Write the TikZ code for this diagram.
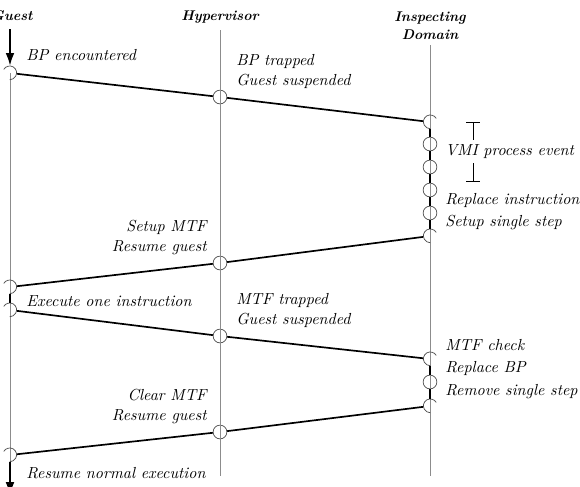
\documentclass[tikz,border=0pt]{standalone}
\usetikzlibrary{arrows.meta}
\begin{document}
\begin{tikzpicture}[x=0.625pt,y=-0.625pt,
 life/.style={black!45, line width=0.5pt},
 msg/.style={black, line width=1.05pt},
 act/.style={black, line width=1.2pt},
 evt/.style={circle, draw=black!70, line width=0.45pt, minimum size=8.6pt, inner sep=0pt},
 endp/.style={circle, draw=none, minimum size=8.6pt, inner sep=0pt},
 half/.style={draw=black!70, line width=0.45pt},
 lbl/.style={font=\itshape, inner sep=0pt, anchor=west, align=left},
 lblr/.style={font=\itshape, inner sep=0pt, anchor=east, align=right},
 ttl/.style={font=\fontsize{8.8}{11}\selectfont\bfseries\itshape, inner sep=0pt, align=center}]
\useasboundingbox (0,0) rectangle (580,486);

% titles
\node[ttl] (tg) at (12,16) {Guest};
\node[ttl] (th) at (220,17) {Hypervisor};
\node[ttl] (td) at (430,26) {Inspecting\\[0pt]Domain};

% lifeline ends
\coordinate (gtop) at (10,29);
\coordinate (gend) at (10,476);
\coordinate (htop) at (220,30);
\coordinate (hend) at (220,476);
\coordinate (dtop) at (430,45);
\coordinate (dend) at (430,476);
\coordinate (gbot) at (10,495);

% events
\node[endp] (g1) at (10,73) {};
\node[evt]  (h1) at (220,97) {};
\node[endp] (d1) at (430,122) {};
\node[evt]  (d2) at (430,144) {};
\node[evt]  (d3) at (430,167) {};
\node[evt]  (d4) at (430,190) {};
\node[evt]  (d5) at (430,213) {};
\node[endp] (d6) at (430,236) {};
\node[evt]  (h2) at (220,263) {};
\node[endp] (g2) at (10,287) {};
\node[endp] (g3) at (10,310) {};
\node[evt]  (h3) at (220,336) {};
\node[endp] (d7) at (430,359) {};
\node[evt]  (d8) at (430,382) {};
\node[endp] (d9) at (430,406) {};
\node[evt]  (h4) at (220,432) {};
\node[endp] (g4) at (10,455) {};

% lifelines
\draw[life] (g1.center) -- (gend);
\draw[life] (htop) -- (hend);
\draw[life] (dtop) -- (dend);

% half circles at the ends of messages
\foreach \n in {g1,g2,g3,g4}
  \draw[half] (\n.150) arc[start angle=150, end angle=-90, radius=4.3pt];
\foreach \n in {d1,d6,d7,d9}
  \draw[half] (\n.30) arc[start angle=30, end angle=270, radius=4.3pt];

% activity bars
\draw[act, -{Latex[length=8pt,width=5.5pt]}] (gtop) -- (g1.north);
\draw[act] (d1.south) -- (d2.north);
\draw[act] (d2.south) -- (d3.north);
\draw[act] (d3.south) -- (d4.north);
\draw[act] (d4.south) -- (d5.north);
\draw[act] (d5.south) -- (d6.north);
\draw[act] (g2.south) -- (g3.north);
\draw[act] (d7.south) -- (d8.north);
\draw[act] (d8.south) -- (d9.north);
\draw[act, -{Latex[length=8pt,width=5.5pt]}] (g4.south) -- (gbot);

% messages
\draw[msg] (g1) -- (h1);
\draw[msg] (h1) -- (d1);
\draw[msg] (d6) -- (h2);
\draw[msg] (h2) -- (g2);
\draw[msg] (g3) -- (h3);
\draw[msg] (h3) -- (d7);
\draw[msg] (d9) -- (h4);
\draw[msg] (h4) -- (g4);

% bracket around VMI process event
\coordinate (b1) at (473,122);
\coordinate (b2) at (473,140);
\coordinate (b3) at (473,163);
\coordinate (b4) at (473,182);
\draw[line width=0.55pt, {Bar[width=8.5pt]}-] (b1) -- (b2);
\draw[line width=0.55pt, -{Bar[width=8.5pt]}] (b3) -- (b4);

% labels
\node[lbl] (l1) at (26,55) {BP encountered};
\node[lbl] (l2) at (236,71.5) {BP trapped\\Guest suspended};
\node[lbl] (l3) at (445,152) {VMI process event};
\node[lbl] (l4) at (445,200) {Replace instruction};
\node[lbl] (l5) at (445,222) {Setup single step};
\node[lblr] (l6) at (207,237.5) {Setup MTF\\Resume guest};
\node[lbl] (l7) at (26,301) {Execute one instruction};
\node[lbl] (l8) at (236,310.5) {MTF trapped\\Guest suspended};
\node[lbl] (l9) at (445,345) {MTF check};
\node[lbl] (l10) at (445,368) {Replace BP};
\node[lbl] (l11) at (445,392) {Remove single step};
\node[lblr] (l12) at (207,406.5) {Clear MTF\\Resume guest};
\node[lbl] (l13) at (26,473) {Resume normal execution};
\end{tikzpicture}
\end{document}
